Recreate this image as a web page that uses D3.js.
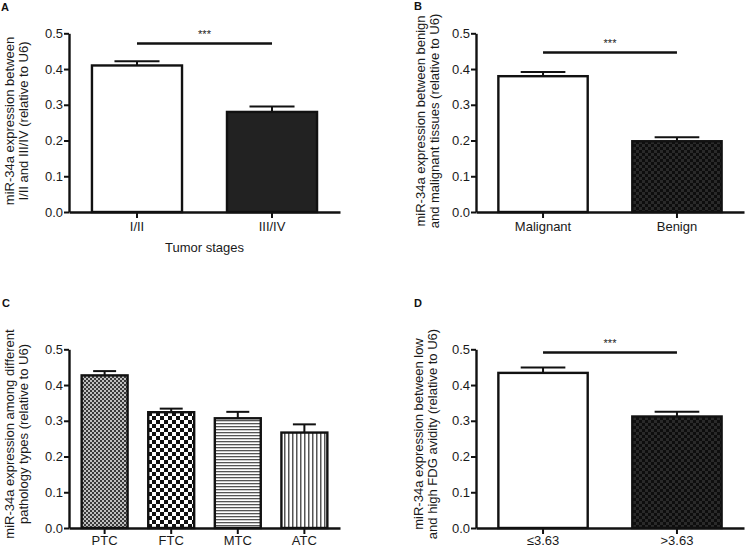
<!DOCTYPE html>
<html><head><meta charset="utf-8">
<script src="https://cdn.jsdelivr.net/npm/d3@7/dist/d3.min.js"></script>
<style>
body{margin:0;background:#fff;}
svg{display:block;}
text{font-family:Arial,"Liberation Sans",Helvetica,sans-serif;}
</style></head>
<body><svg id="c" width="747" height="548"></svg>
<script>
const yTicks = [0, 0.1, 0.2, 0.3, 0.4, 0.5];

const catsA = ["I/II", "III/IV"];
const valsA = [0.41, 0.28];
const errA  = [0.012, 0.015];

const catsB = ["Malignant", "Benign"];
const valsB = [0.38, 0.198];
const errB  = [0.012, 0.011];

const catsC = ["PTC", "FTC", "MTC", "ATC"];
const valsC = [0.427, 0.324, 0.307, 0.267];
const errC  = [0.012, 0.010, 0.018, 0.023];

const catsD = ["\u22643.63", ">3.63"];
const valsD = [0.434, 0.312];
const errD  = [0.015, 0.013];

const svg = d3.select("#c");
const defs = svg.append("defs");

// patterns
function checker(id, size, c1, c2) {
  const p = defs.append("pattern").attr("id", id).attr("patternUnits", "userSpaceOnUse")
    .attr("width", size * 2).attr("height", size * 2);
  p.append("rect").attr("width", size * 2).attr("height", size * 2).attr("fill", c1);
  p.append("rect").attr("width", size).attr("height", size).attr("fill", c2);
  p.append("rect").attr("x", size).attr("y", size).attr("width", size).attr("height", size).attr("fill", c2);
}
checker("pDark", 3, "#0e0e0e", "#2a2a2a");
checker("pPTC", 2, "#c0c0c0", "#3a3a3a");
checker("pFTC", 4, "#ffffff", "#111111");
(function () {
  const p = defs.append("pattern").attr("id", "pMTC").attr("patternUnits", "userSpaceOnUse")
    .attr("width", 6).attr("height", 3);
  p.append("rect").attr("width", 6).attr("height", 3).attr("fill", "#fff");
  p.append("rect").attr("y", 0).attr("width", 6).attr("height", 1.3).attr("fill", "#555");
  const q = defs.append("pattern").attr("id", "pATC").attr("patternUnits", "userSpaceOnUse")
    .attr("width", 4).attr("height", 6);
  q.append("rect").attr("width", 4).attr("height", 6).attr("fill", "#fff");
  q.append("rect").attr("x", 0).attr("width", 1.5).attr("height", 6).attr("fill", "#555");
})();

function panel(o) {
  const g = svg.append("g");
  const x = d3.scaleBand().domain(o.cats).range([o.x0, o.x1])
    .paddingInner(o.pi).paddingOuter(o.po);
  const y = d3.scaleLinear().domain([0, 0.5]).range([o.y0, o.y1]);

  const data = o.cats.map((c, i) => ({c, v: o.vals[i], e: o.errs[i], f: o.fills[i]}));
  g.selectAll("line.err").data(data).enter().append("line")
    .attr("x1", d => x(d.c) + x.bandwidth() / 2).attr("x2", d => x(d.c) + x.bandwidth() / 2)
    .attr("y1", d => y(d.v)).attr("y2", d => y(d.v + d.e))
    .attr("stroke", "#111").attr("stroke-width", 2);
  g.selectAll("line.cap").data(data).enter().append("line")
    .attr("x1", d => x(d.c) + x.bandwidth() / 4).attr("x2", d => x(d.c) + x.bandwidth() * 3 / 4)
    .attr("y1", d => y(d.v + d.e)).attr("y2", d => y(d.v + d.e))
    .attr("stroke", "#111").attr("stroke-width", 2);
  g.selectAll("rect.bar").data(data).enter().append("rect")
    .attr("x", d => x(d.c)).attr("width", x.bandwidth())
    .attr("y", d => y(d.v)).attr("height", d => y(0) - y(d.v))
    .attr("fill", d => d.f).attr("stroke", "#111").attr("stroke-width", 2.4);

  const ya = g.append("g").attr("transform", `translate(${o.x0},0)`)
    .call(d3.axisLeft(y).tickValues(yTicks).tickFormat(d3.format(".1f")).tickSize(5).tickSizeOuter(0).tickPadding(1));
  const xa = g.append("g").attr("transform", `translate(0,${o.y0})`)
    .call(d3.axisBottom(x).tickSize(6).tickSizeOuter(0).tickPadding(o.xpad));
  [ya, xa].forEach(a => {
    a.select(".domain").attr("stroke", "#111").attr("stroke-width", 2.4);
    a.selectAll(".tick line").attr("stroke", "#111").attr("stroke-width", 2);
    a.selectAll("text").attr("font-size", 13).attr("fill", "#1a1a1a")
      .attr("font-family", "Arial, 'Liberation Sans', sans-serif");
  });

  const yl = g.append("text").attr("transform", `translate(${o.ylx},${o.yly}) rotate(-90)`)
    .attr("text-anchor", "middle").attr("font-size", 13).attr("fill", "#1a1a1a");
  yl.append("tspan").attr("x", 0).attr("y", 0).text(o.ylab[0]);
  yl.append("tspan").attr("x", 0).attr("y", 14).text(o.ylab[1]);

  if (o.sig) {
    const xs1 = x(o.cats[0]) + x.bandwidth() / 2, xs2 = x(o.cats[1]) + x.bandwidth() / 2;
    g.append("line").attr("x1", xs1).attr("x2", xs2).attr("y1", o.sigY).attr("y2", o.sigY)
      .attr("stroke", "#111").attr("stroke-width", 2.5);
    g.append("text").attr("x", (xs1 + xs2) / 2).attr("y", o.sigY - 6).attr("text-anchor", "middle")
      .attr("font-size", 11).attr("fill", "#222").text("***");
  }
  if (o.xlab) {
    g.append("text").attr("x", (o.x0 + o.x1) / 2).attr("y", o.y0 + 40).attr("text-anchor", "middle")
      .attr("font-size", 13).attr("fill", "#1a1a1a").text(o.xlab);
  }
  g.append("text").attr("x", o.lx).attr("y", o.ly).attr("font-size", 11).attr("font-weight", "bold")
    .attr("fill", "#111").text(o.letter);
}

panel({cats: catsA, vals: valsA, errs: errA, fills: ["#fff", "#222"],
  x0: 69, x1: 340, y0: 212, y1: 33.3, pi: 0.333, po: 0.17, xpad: 4,
  ylab: ["miR-34a expression between", "I/II and III/IV (relative to U6)"], ylx: 14, yly: 121,
  sig: true, sigY: 43.5, xlab: "Tumor stages", letter: "A", lx: 1, ly: 11});

panel({cats: catsB, vals: valsB, errs: errB, fills: ["#fff", "url(#pDark)"],
  x0: 476, x1: 744, y0: 212, y1: 33.3, pi: 0.333, po: 0.167, xpad: 4,
  ylab: ["miR-34a expression between benign", "and malignant tissues (relative to U6)"], ylx: 425, yly: 121,
  sig: true, sigY: 52.5, letter: "B", lx: 414, ly: 10});

panel({cats: catsC, vals: valsC, errs: errC, fills: ["url(#pPTC)", "url(#pFTC)", "url(#pMTC)", "url(#pATC)"],
  x0: 69, x1: 340, y0: 528, y1: 349.3, pi: 0.31, po: 0.19, xpad: 1.5,
  ylab: ["miR-34a expression among different", "pathology types (relative to U6)"], ylx: 14, yly: 434,
  sig: false, letter: "C", lx: 2, ly: 307});

panel({cats: catsD, vals: valsD, errs: errD, fills: ["#fff", "url(#pDark)"],
  x0: 476, x1: 744, y0: 528, y1: 349.3, pi: 0.333, po: 0.167, xpad: 1.5,
  ylab: ["miR-34a expression between low", "and high FDG avidity (relative to U6)"], ylx: 423, yly: 434,
  sig: true, sigY: 352.5, letter: "D", lx: 414, ly: 307});
</script></body></html>
